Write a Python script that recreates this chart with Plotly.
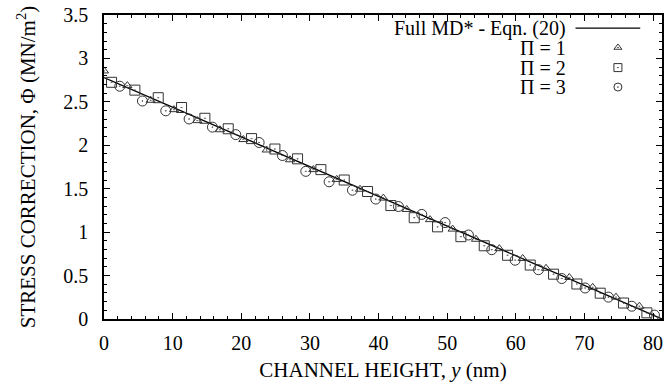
import plotly.graph_objects as go

# ---- data ----
line_x = [0.0, 81.3]
line_phi = [2.78, 0.0]

pi1_x = [0.0, 3.4, 6.8, 10.2, 13.6, 16.9, 20.3, 23.7, 27.1, 30.5, 33.9, 37.3,
         40.7, 44.1, 47.5, 50.8, 54.2, 57.6, 61.0, 64.4, 67.8, 71.2, 74.6, 78.0]
pi1_phi = [2.856, 2.687, 2.518, 2.41, 2.284, 2.179, 2.066, 1.946, 1.833, 1.72, 1.607, 1.494,
           1.392, 1.261, 1.144, 1.035, 0.918, 0.81, 0.697, 0.584, 0.478, 0.365, 0.252, 0.147]

pi2_x = [1.1, 4.5, 7.9, 11.3, 14.7, 18.1, 21.5, 24.9, 28.2, 31.6, 35.0, 38.4,
         41.8, 45.2, 48.6, 52.0, 55.4, 58.8, 62.1, 65.5, 68.9, 72.3, 75.7, 79.1]
pi2_phi = [2.725, 2.635, 2.548, 2.435, 2.311, 2.19, 2.077, 1.957, 1.844, 1.72, 1.60, 1.468,
           1.306, 1.166, 1.061, 0.948, 0.843, 0.734, 0.621, 0.516, 0.403, 0.297, 0.184, 0.071]

pi3_x = [2.3, 5.6, 9.0, 12.4, 15.8, 19.2, 22.6, 26.0, 29.4, 32.8, 36.2, 39.6,
         42.9, 46.3, 49.7, 53.1, 56.5, 59.9, 63.3, 66.7, 70.1, 73.5, 76.9, 80.2]
pi3_phi = [2.68, 2.51, 2.397, 2.303, 2.209, 2.123, 2.032, 1.882, 1.70, 1.58, 1.483, 1.381,
           1.295, 1.204, 1.11, 0.967, 0.798, 0.677, 0.568, 0.466, 0.357, 0.252, 0.147, 0.045]

legend_labels = ["Full MD* - Eqn. (20)", "\u03a0 = 1", "\u03a0 = 2", "\u03a0 = 3"]
x_ticks = [0, 10, 20, 30, 40, 50, 60, 70, 80]
y_ticks = [0, 0.5, 1, 1.5, 2, 2.5, 3, 3.5]

FONT = "Liberation Serif"
MCOL = "#333333"

fig = go.Figure()
fig.add_trace(go.Scatter(x=line_x, y=line_phi, mode="lines",
                         line=dict(color="black", width=1.3), showlegend=False))
fig.add_trace(go.Scatter(x=pi1_x, y=pi1_phi, mode="markers", showlegend=False,
                         marker=dict(symbol="triangle-up-open-dot", size=8,
                                     color=MCOL, line=dict(width=1, color=MCOL))))
fig.add_trace(go.Scatter(x=pi2_x, y=pi2_phi, mode="markers", showlegend=False,
                         marker=dict(symbol="square-open-dot", size=10,
                                     color=MCOL, line=dict(width=1, color=MCOL))))
fig.add_trace(go.Scatter(x=pi3_x, y=pi3_phi, mode="markers", showlegend=False,
                         marker=dict(symbol="circle-open-dot", size=10,
                                     color=MCOL, line=dict(width=1, color=MCOL))))

# custom legend (text on the left, sample on the right)
leg_y = [0.957, 0.893, 0.827, 0.763]
for i, (lab, yy) in enumerate(zip(legend_labels, leg_y)):
    extra = {} if i == 0 else dict(height=18)
    fig.add_annotation(x=0.832, y=yy, xref="paper", yref="paper", text=lab,
                       showarrow=False, xanchor="right", yanchor="middle",
                       font=dict(family=FONT, size=20, color="black"), **extra)
fig.add_shape(type="line", xref="paper", yref="paper", x0=0.845, x1=0.961,
              y0=leg_y[0], y1=leg_y[0], line=dict(color="black", width=1.3))
for sym, yy, sz in zip(["triangle-up-open-dot", "square-open-dot", "circle-open-dot"],
                       leg_y[1:], [7, 8, 8]):
    fig.add_trace(go.Scatter(x=[0.921], y=[yy], xaxis="x2", yaxis="y2", mode="markers",
                             showlegend=False, hoverinfo="skip",
                             marker=dict(symbol=sym, size=sz, color=MCOL,
                                         line=dict(width=1, color=MCOL))))

axis_common = dict(showline=True, linecolor="black", linewidth=1.5, mirror="ticks",
                   ticks="inside", ticklen=6, tickwidth=1, tickcolor="black",
                   showgrid=False, zeroline=False, ticklabeloverflow="allow",
                   tickfont=dict(family=FONT, size=20, color="black"))

fig.update_layout(
    width=668, height=389,
    margin=dict(l=104, r=4, t=9, b=70),
    plot_bgcolor="white", paper_bgcolor="white",
    font=dict(family=FONT, size=20, color="black"),
    xaxis=dict(range=[0, 81.3], tickvals=x_ticks,
               minor=dict(dtick=2, ticklen=3, ticks="inside", tickcolor="black"),
               title=dict(text="CHANNEL HEIGHT, <i>y</i> (nm)", standoff=10,
                          font=dict(family=FONT, size=21)),
               ticklabelstandoff=5, **axis_common),
    yaxis=dict(range=[0, 3.5], tickvals=y_ticks,
               minor=dict(dtick=0.1, ticklen=3, ticks="inside", tickcolor="black"),
               title=dict(text="STRESS CORRECTION, \u03a6 (MN/m<sup>2</sup>)", standoff=22,
                          font=dict(family=FONT, size=21)),
               ticklabelstandoff=10, **axis_common),
    xaxis2=dict(overlaying="x", range=[0, 1], visible=False, fixedrange=True),
    yaxis2=dict(overlaying="y", range=[0, 1], visible=False, fixedrange=True),
)

fig.write_html("out.html")
